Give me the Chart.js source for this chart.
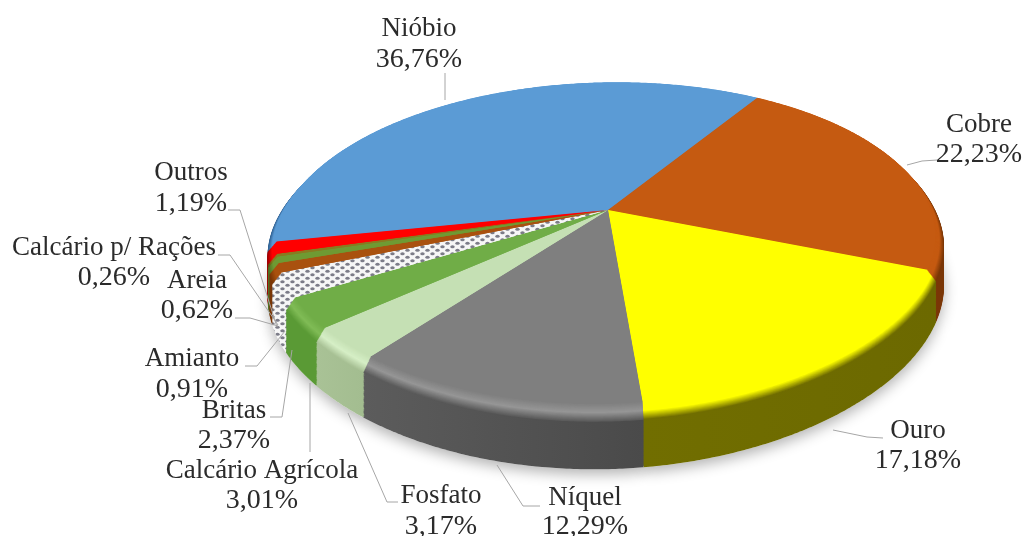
<!DOCTYPE html>
<html lang="pt">
  <head>
    <meta charset="utf-8" />
    <title>Minerais</title>
    <script src="https://cdn.jsdelivr.net/npm/chart.js@4"></script>
    <style>
      html, body { margin: 0; padding: 0; background: #fff; }
      canvas { display: block; }
    </style>
  </head>
  <body>
    <canvas id="pie" width="1024" height="536"></canvas>

    <script>
      var categories = ["Nióbio", "Cobre", "Ouro", "Níquel", "Fosfato", "Calcário Agrícola", "Britas", "Amianto", "Areia", "Calcário p/ Rações", "Outros"];
      var shares = [36.76, 22.23, 17.18, 12.29, 3.17, 3.01, 2.37, 0.91, 0.62, 0.26, 1.19];

      var topColors = ["#5b9bd5", "#c55a11", "#ffff00", "#7f7f7f", "#c5e0b4", "#70ad47", "#ffffff", "#a9510f", "#6f9a33", "#8a7a20", "#ff0000"];
      var rimColors = ["#5b9bd5", "#c55a11", "#ffff00", "#969696", "#d6efc6", "#80bc56", "#ffffff", "#a9510f", "#6f9a33", "#8a7a20", "#ff0000"];
      var wallColors = ["#2f5f90", "#7a3606", "#716e00", "#5c5c5c", "#a9c296", "#5a9a35", "#ffffff", "#7a3606", "#4f7024", "#5a5010", "#a00000"];
      var wallColorsRight = ["#2f5f90", "#7a3606", "#6c6900", "#4a4a4a", "#a3bd90", "#5a9a35", "#ffffff", "#7a3606", "#4f7024", "#5a5010", "#a00000"];

      // label layout: centre x, first baseline, second baseline
      var labelX = [419, 979, 918, 585, 441, 262, 234, 192, 197, 114, 191];
      var labelY1 = [36, 132, 438, 505, 503, 478, 418, 366, 288, 255, 180];
      var labelY2 = [67, 162, 468, 534, 534, 508, 448, 397, 318, 285, 211];
      var leaders = [
        [[445, 73], [445, 100]],
        [[937, 160], [922, 161], [907, 165]],
        [[883, 438], [867, 437], [833, 430]],
        [[540, 506], [523, 506], [497, 465]],
        [[398, 502], [387, 502], [348, 413]],
        [[310, 452], [310, 383]],
        [[270, 417], [282, 417], [292, 350]],
        [[245, 366], [257, 366], [285, 331]],
        [[235, 318], [250, 318], [278, 326]],
        [[218, 255], [230, 255], [278, 325]],
        [[228, 210], [240, 210], [277, 327]]
      ];

      // perspective of the disc, see project()
      var cx = 608, cy = 210, rX = 331, rY = 158, persp = 0.211, skew = -11, frontPinch = 0.04;
      var depth = 46.6, bevel = 9, topScale = 0.975;

      function project(angle, scale, h) {
        var u = Math.cos(angle) * scale;
        var v = Math.sin(angle) * scale;
        var w = 1 - persp * v;
        var pinch = v > 0 ? 1 - frontPinch * v * v : 1;
        return [cx + (rX * u * pinch + skew * v) / w, cy + (rY * v + h) / w];
      }

      function mix(a, b, t) {
        var out = "#";
        for (var i = 1; i < 7; i += 2) {
          var x = parseInt(a.substr(i, 2), 16);
          var y = parseInt(b.substr(i, 2), 16);
          var c = Math.round(x + (y - x) * t).toString(16);
          out += c.length < 2 ? "0" + c : c;
        }
        return out;
      }

      function slicePath(ctx, arc, scale, h) {
        var step = Math.PI / 360;
        var p;
        ctx.beginPath();
        ctx.moveTo(cx, cy + h);
        for (var a = arc.startAngle; a < arc.endAngle; a += step) {
          p = project(a, scale, h);
          ctx.lineTo(p[0], p[1]);
        }
        p = project(arc.endAngle, scale, h);
        ctx.lineTo(p[0], p[1]);
        ctx.closePath();
      }

      function dotPattern() {
        var c = document.createElement("canvas");
        c.width = 10;
        c.height = 7;
        var g = c.getContext("2d");
        g.fillStyle = "#f6f6f6";
        g.fillRect(0, 0, 10, 7);
        g.fillStyle = "#7c7c88";
        g.beginPath();
        g.ellipse(2.5, 1.8, 2.2, 1.5, 0, 0, Math.PI * 2);
        g.fill();
        g.beginPath();
        g.ellipse(7.5, 5.2, 2.2, 1.5, 0, 0, Math.PI * 2);
        g.fill();
        return g.createPattern(c, "repeat");
      }

      function wallFill(ctx, arc, n) {
        var a = project(arc.startAngle, 1, 0)[0];
        var b = project(arc.endAngle, 1, 0)[0];
        var grad = ctx.createLinearGradient(Math.min(a, b), 0, Math.max(a, b), 0);
        grad.addColorStop(0, wallColors[n]);
        grad.addColorStop(1, wallColorsRight[n]);
        return grad;
      }

      var pie3d = {
        id: "pie3d",
        beforeDatasetsDraw: function (chart) {
          var ctx = chart.ctx;
          var arcs = chart.getDatasetMeta(0).data;
          var dots = dotPattern();
          var i, h;

          // soft shadow under the disc
          ctx.save();
          ctx.shadowColor = "rgba(0,0,0,0.3)";
          ctx.shadowBlur = 14;
          ctx.shadowOffsetY = 5;
          ctx.fillStyle = "#ffffff";
          arcs.forEach(function (arc) {
            slicePath(ctx, arc, 1, depth);
            ctx.fill();
          });
          ctx.restore();

          // side wall, bottom up
          for (h = depth; h > bevel; h -= 1) {
            arcs.forEach(function (arc, n) {
              slicePath(ctx, arc, 1, h);
              ctx.fillStyle = n == 6 ? dots : wallFill(ctx, arc, n);
              ctx.fill();
            });
          }

          // rounded edge between wall and top
          for (i = 0; i <= 18; i++) {
            var t = i / 18;
            arcs.forEach(function (arc, n) {
              slicePath(ctx, arc, 1 - (1 - topScale) * t, bevel * (1 - t));
              var col = t < 0.5 ? mix(wallColors[n], rimColors[n], t * 2) : mix(rimColors[n], topColors[n], t * 2 - 1);
              ctx.fillStyle = n == 6 ? dots : col;
              ctx.fill();
            });
          }
          return false;
        },
        afterDraw: function (chart) {
          var ctx = chart.ctx;
          ctx.save();
          ctx.strokeStyle = "#a6a6a6";
          ctx.lineWidth = 1;
          leaders.forEach(function (line) {
            ctx.beginPath();
            line.forEach(function (p, i) {
              if (i == 0) ctx.moveTo(p[0], p[1]);
              else ctx.lineTo(p[0], p[1]);
            });
            ctx.stroke();
          });
          ctx.fillStyle = "#2b2b2b";
          ctx.textAlign = "center";
          categories.forEach(function (name, n) {
            ctx.font = '27px "Liberation Serif"';
            ctx.fillText(name, labelX[n], labelY1[n]);
            ctx.font = '28px "Liberation Serif"';
            ctx.fillText(shares[n].toFixed(2).replace(".", ",") + "%", labelX[n], labelY2[n]);
          });
          ctx.restore();
        }
      };

      var chart = new Chart(document.getElementById("pie").getContext("2d"), {
        type: "pie",
        data: {
          labels: categories,
          datasets: [{ data: shares, backgroundColor: topColors, borderWidth: 0 }]
        },
        options: {
          responsive: false,
          animation: false,
          rotation: -101.3,
          plugins: { legend: { display: false }, tooltip: { enabled: false } }
        },
        plugins: [pie3d]
      });
    </script>
  </body>
</html>
